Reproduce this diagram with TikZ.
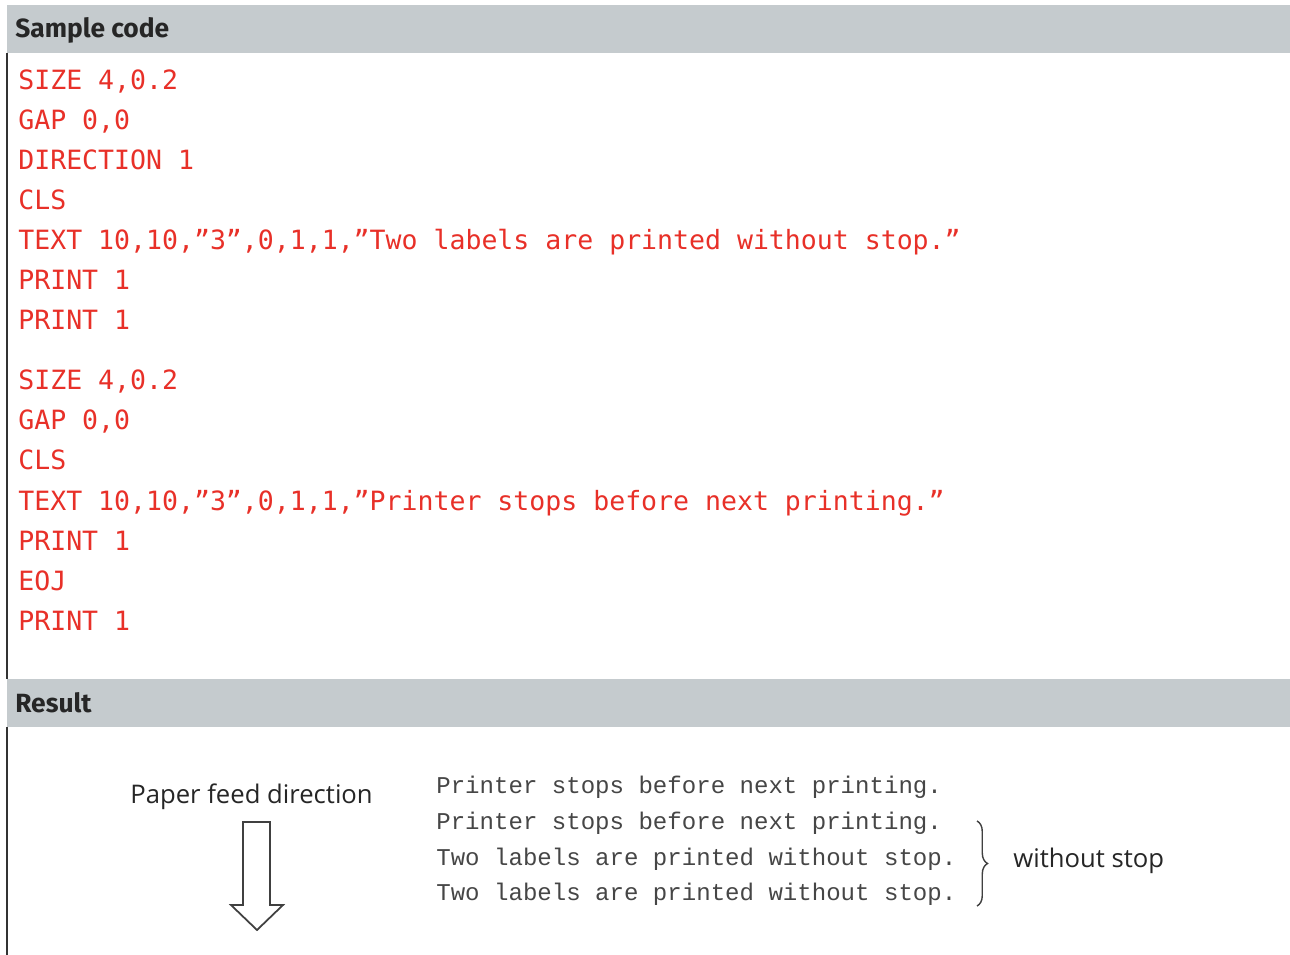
\documentclass[tikz,border=0pt]{standalone}
\usepackage{fontspec}
\setmainfont{Fira Sans}
\newfontfamily\codefont{DejaVu Sans Mono}
\newfontfamily\printfont{Liberation Mono}
\newfontfamily\notefont{Open Sans}
\usepackage{tikz}
\usetikzlibrary{positioning, decorations.pathreplacing}

\definecolor{barcolor}{RGB}{197,203,206}
\definecolor{codered}{RGB}{232,48,40}
\definecolor{printgray}{RGB}{70,70,70}

\tikzset{
    header/.style={anchor=base west, inner sep=0pt, font=\fontsize{15}{17}\selectfont\bfseries, text=black!85},
    codeline/.style={anchor=base west, inner sep=0pt, font=\codefont\fontsize{15.1}{17}\selectfont, text=codered},
    printline/.style={anchor=base west, inner sep=0pt, font=\printfont\fontsize{13.7}{15}\selectfont, text=printgray},
    note/.style={anchor=base west, inner sep=0pt, font=\notefont\fontsize{14.6}{16}\selectfont, text=black!85}
}

\begin{document}
\begin{tikzpicture}[x=0.02cm, y=-0.02cm]
                \useasboundingbox (0,0) rectangle (1290,955);
                \fill[white] (0,0) rectangle (1290,955);

                % header bars and left rule
                \fill[barcolor] (7,5) rectangle (1290,53);
                \fill[barcolor] (7,679) rectangle (1290,727);
                \draw[black!80, line width=0.6pt] (7,53) -- (7,679);
                \draw[black!80, line width=0.6pt] (7,727) -- (7,955);
                \node[header] (hcode) at (15,38) {Sample code};
                \node[header] (hres) at (15,712) {Result};

                % sample code
                \node[codeline] (c1) at (18,90) {SIZE 4,0.2};
                \node[codeline] (c2) at (18,130) {GAP 0,0};
                \node[codeline] (c3) at (18,170) {DIRECTION 1};
                \node[codeline] (c4) at (18,210) {CLS};
                \node[codeline] (c5) at (18,250) {TEXT 10,10,”3”,0,1,1,”Two labels are printed without stop.”};
                \node[codeline] (c6) at (18,290) {PRINT 1};
                \node[codeline] (c7) at (18,330) {PRINT 1};
                \node[codeline] (c8) at (18,390) {SIZE 4,0.2};
                \node[codeline] (c9) at (18,430) {GAP 0,0};
                \node[codeline] (c10) at (18,470) {CLS};
                \node[codeline] (c11) at (18,510) {TEXT 10,10,”3”,0,1,1,”Printer stops before next printing.”};
                \node[codeline] (c12) at (18,550) {PRINT 1};
                \node[codeline] (c13) at (18,590) {EOJ};
                \node[codeline] (c14) at (18,630) {PRINT 1};

                % result
                \node[note] (feed) at (130,803) {Paper feed direction};
                \draw[black!75, line width=1pt] (243,822) -- (270,822) -- (270,905) -- (283,905)
                    -- (257,930) -- (231,905) -- (243,905) -- cycle;

                \node[printline] (p1) at (436,793) {Printer stops before next printing.};
                \node[printline] (p2) at (436,829) {Printer stops before next printing.};
                \node[printline] (p3) at (436,865) {Two labels are printed without stop.};
                \node[printline] (p4) at (436,900) {Two labels are printed without stop.};

                \coordinate (btop) at (977,821);
                \coordinate (bbot) at (977,906);
                \draw[black!75, line width=0.8pt, decorate, decoration={brace, amplitude=6pt}] (btop) -- (bbot);
                \node[note] (nostop) at (1013,867) {without stop};
            \end{tikzpicture}
\end{document}
